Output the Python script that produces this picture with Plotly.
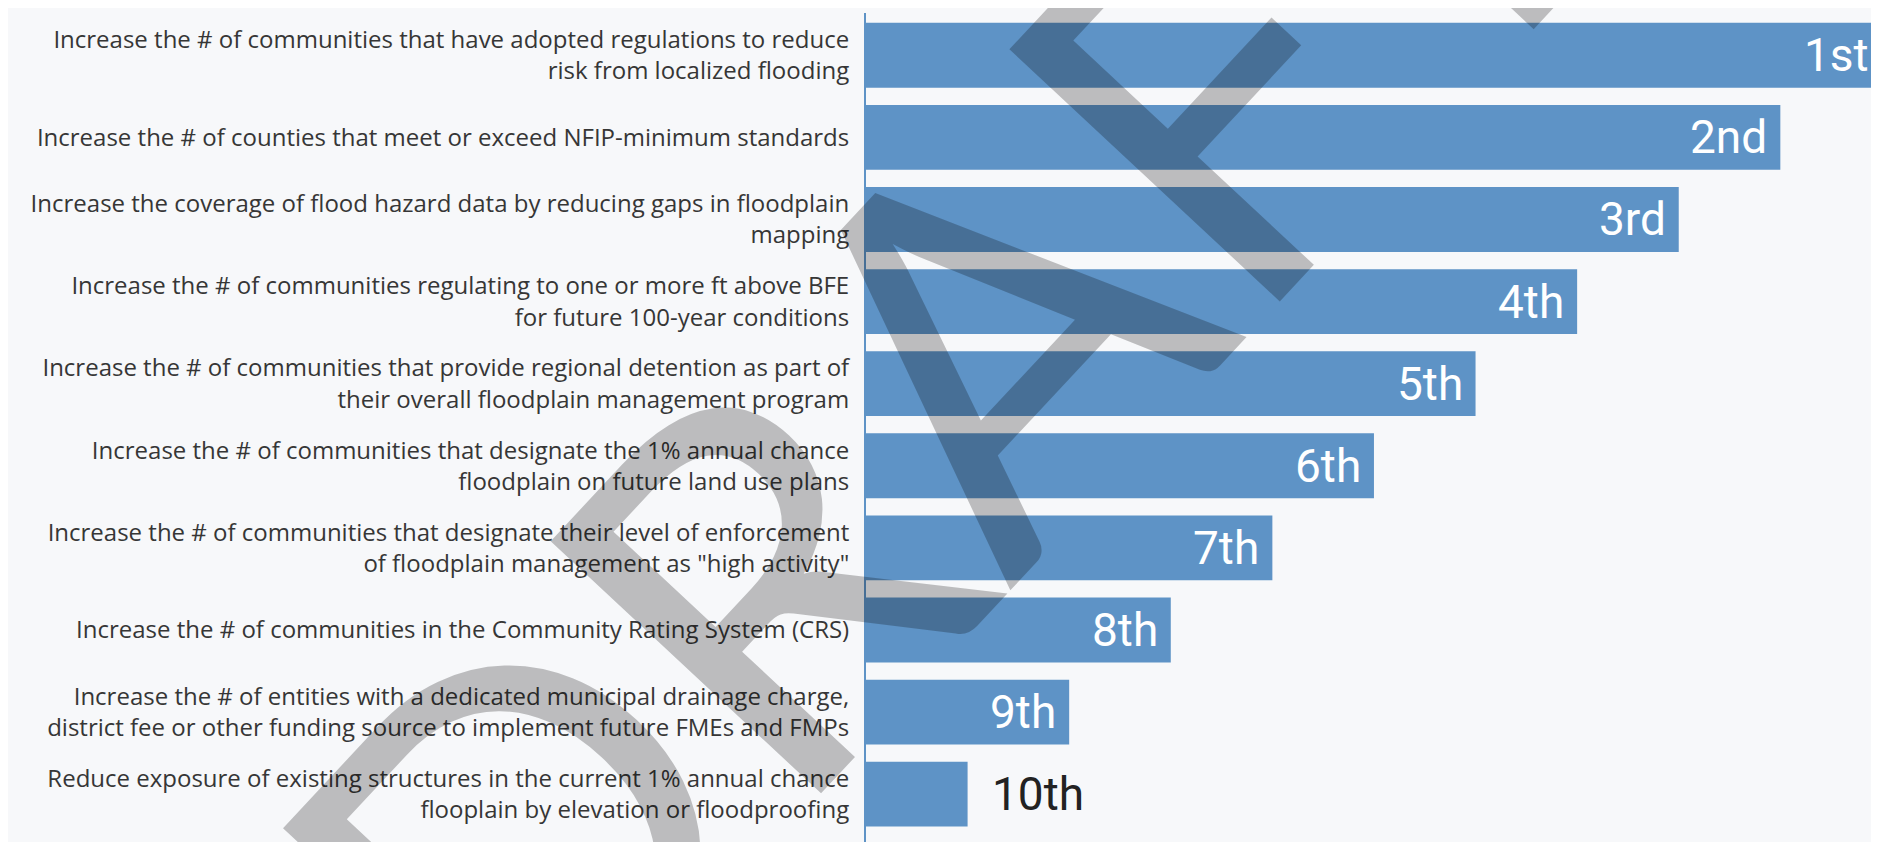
import plotly.graph_objects as go

# ---- data ----
goals = [
    "Increase the # of communities that have adopted regulations to reduce<br>risk from localized flooding",
    "Increase the # of counties that meet or exceed NFIP-minimum standards",
    "Increase the coverage of flood hazard data by reducing gaps in floodplain<br>mapping",
    "Increase the # of communities regulating to one or more ft above BFE<br>for future 100-year conditions",
    "Increase the # of communities that provide regional detention as part of<br>their overall floodplain management program",
    "Increase the # of communities that designate the 1% annual chance<br>floodplain on future land use plans",
    "Increase the # of communities that designate their level of enforcement<br>of floodplain management as \"high activity\"",
    "Increase the # of communities in the Community Rating System (CRS)",
    "Increase the # of entities with a dedicated municipal drainage charge,<br>district fee or other funding source to implement future FMEs and FMPs",
    "Reduce exposure of existing structures in the current 1% annual chance<br>flooplain by elevation or floodproofing",
]
scores = [10, 9, 8, 7, 6, 5, 4, 3, 2, 1]
ranks = ["1st", "2nd", "3rd", "4th", "5th", "6th", "7th", "8th", "9th", "10th"]

BAR = "#5e93c6"
BG = "#f7f8fa"
LABEL_FONT = "Open Sans"
RANK_FONT = "Roboto"

fig = go.Figure()
fig.add_trace(go.Bar(
    x=scores, y=goals, orientation="h",
    marker=dict(color=BAR, line=dict(width=0)),
    width=0.79, hoverinfo="skip",
))

annotations = []
for g, v, r in zip(goals, scores, ranks):
    if v >= 2:
        annotations.append(dict(x=v, y=g, xref="x", yref="y", text=r, showarrow=False,
                                xanchor="right", xshift=-11,
                                font=dict(family=RANK_FONT, size=46, color="white")))
    else:
        annotations.append(dict(x=v, y=g, xref="x", yref="y", text=r, showarrow=False,
                                xanchor="left", xshift=22,
                                font=dict(family=RANK_FONT, size=46, color="#222222")))

# DRAFT watermark
annotations.append(dict(x=0.074, y=0.572, xref="paper", yref="paper", text="DRAFT",
                        showarrow=False, textangle=-47, xanchor="center", yanchor="middle",
                        font=dict(family="Lato", size=516, color="rgba(0,0,0,0.24)")))

fig.update_layout(
    width=1879, height=842,
    margin=dict(l=858, r=0, t=5, b=0),
    paper_bgcolor=BG, plot_bgcolor=BG,
    showlegend=False,
    annotations=annotations,
    xaxis=dict(range=[0, 10.05], visible=False, fixedrange=True),
    yaxis=dict(
        type="category", categoryorder="array", categoryarray=goals,
        range=[9.68, -0.515],
        showline=True, linecolor=BAR, linewidth=2,
        showgrid=False, zeroline=False, ticks="",
        ticklabelstandoff=10,
        tickfont=dict(family=LABEL_FONT, size=24, color="#363636"),
    ),
)

fig.write_html("out.html")
